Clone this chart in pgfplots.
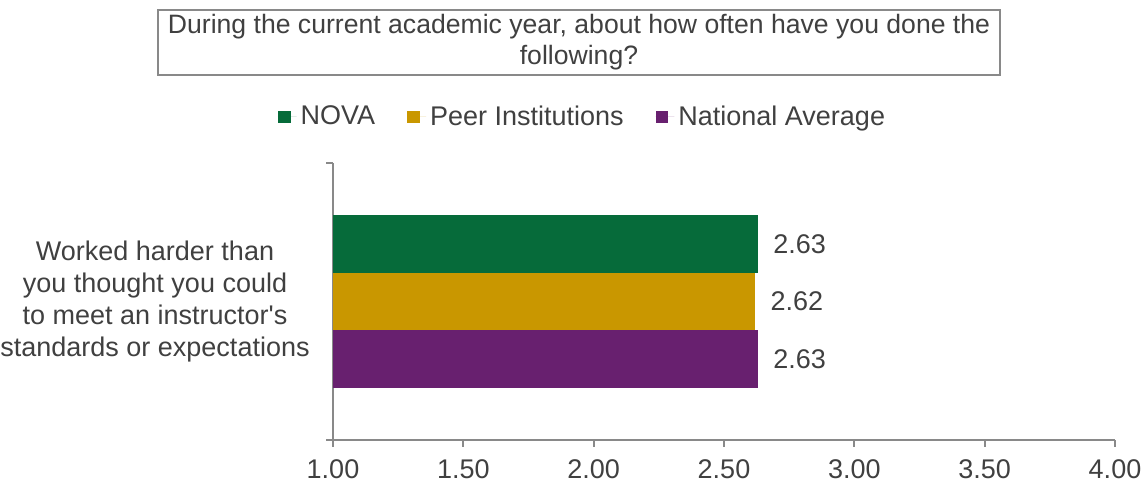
\documentclass[border=0pt]{standalone}
\usepackage{fontspec}
\setmainfont{Liberation Sans}
\usepackage{pgfplots}
\pgfplotsset{compat=1.18}
\definecolor{nova}{HTML}{066B3A}
\definecolor{peer}{HTML}{C99700}
\definecolor{natl}{HTML}{68206F}
\definecolor{txt}{HTML}{404040}
\definecolor{axl}{HTML}{898989}
\newcommand{\fs}{\fontsize{13.5}{16}\selectfont}
\newcommand{\fst}{\fontsize{13.3}{15.5}\selectfont}
\pgfplotsset{/pgf/number format/assume math mode=true}
\begin{document}
\begin{tikzpicture}
\useasboundingbox (0,0) rectangle (573pt,242.5pt);
\node[draw=axl, line width=0.75pt, minimum width=421pt, minimum height=32.5pt, align=center, inner sep=0pt, text=txt, font=\fst] at (289.5pt,221.25pt) {During the current academic year, about how often have you done the\\following?};
\node[align=center, anchor=east, font=\fs, text=txt, inner sep=0pt] at (155pt,91.5pt) {Worked harder than\\you thought you could\\to meet an instructor\textquotesingle s\\standards or expectations};
\begin{axis}[
  at={(166.5pt,22.5pt)}, anchor=south west, scale only axis,
  width=391pt, height=138.5pt,
  xbar, bar width=28.83pt,
  xmin=1, xmax=4, ymin=-1, ymax=1,
  axis lines*=left,
  axis line style={axl, line width=1pt},
  xtick={1,1.5,2,2.5,3,3.5,4},
  ytick={-1,1}, yticklabels={},
  tick align=outside, major tick length=3.5pt,
  tick style={axl, line width=1pt},
  xticklabel style={font=\fs, text=txt, inner sep=0pt, anchor=north, yshift=-6pt,
    /pgf/number format/.cd, fixed, fixed zerofill, precision=2},
  point meta=x,
  nodes near coords,
  nodes near coords style={anchor=west, font=\fs, text=txt, inner sep=0pt, xshift=7.5pt,
    /pgf/number format/.cd, fixed, fixed zerofill, precision=2},
  legend style={at={(0.3203,1.1663)}, anchor=center, draw=none, fill=none,
    font=\fs, text=txt, legend columns=3,
    /tikz/every even column/.append style={column sep=14pt}},
  legend image code/.code={\fill[#1] (0pt,-3.2pt) rectangle (6.4pt,3.2pt); \path (0pt,0pt) -- (9.4pt,0pt);},
]
\addplot[fill=nova, draw=none, bar shift=28.83pt] coordinates {(2.63,0)};
\addlegendentry{NOVA}
\addplot[fill=peer, draw=none, bar shift=0pt] coordinates {(2.62,0)};
\addlegendentry{Peer Institutions}
\addplot[fill=natl, draw=none, bar shift=-28.83pt] coordinates {(2.63,0)};
\addlegendentry{National Average}
\end{axis}
\end{tikzpicture}
\end{document}
